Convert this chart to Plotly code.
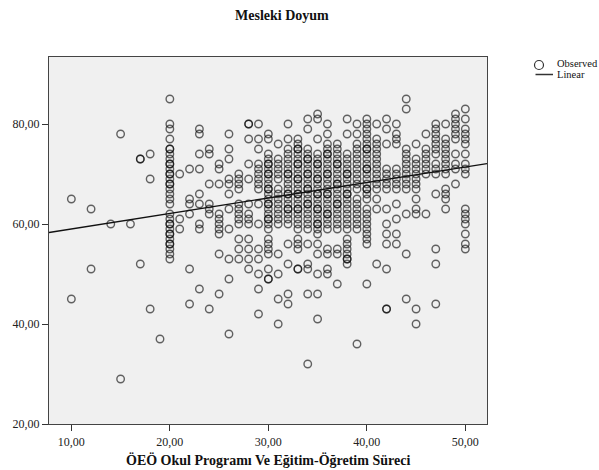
import plotly.graph_objects as go

# ---- data ----
x_levels = [10, 12, 14, 15, 16, 17, 18, 19, 20, 21, 22, 23, 24, 25, 26, 27, 28, 29,
            30, 31, 32, 33, 34, 35, 36, 37, 38, 39, 40, 41, 42, 43, 44, 45, 46, 47, 48, 49, 50]
y_by_level = [
    [65, 45],
    [63, 51],
    [60],
    [78, 29],
    [60],
    [73, 73, 52],
    [74, 69, 43],
    [37],
    [85, 80, 79, 77, 75, 74, 73, 72, 71, 70, 69, 68, 67, 66, 65, 64, 62, 61, 60, 59, 58, 57, 56, 55, 54, 53, 75, 72, 70, 68, 60, 58, 56],
    [70, 61, 59],
    [71, 65, 64, 62, 51, 44],
    [79, 78, 74, 71, 66, 64, 60, 59, 47],
    [75, 74, 68, 64, 63, 62, 43],
    [72, 71, 68, 62, 61, 60, 59, 58, 54, 46],
    [78, 75, 73, 69, 68, 66, 63, 59, 53, 49, 38],
    [70, 69, 68, 67, 64, 63, 62, 61, 60, 57, 55, 53],
    [80, 80, 77, 72, 69, 64, 62, 61, 60, 57, 55, 53, 51],
    [80, 77, 75, 72, 71, 70, 69, 68, 67, 64, 60, 55, 53, 50, 47, 42],
    [78, 77, 74, 73, 72, 71, 70, 69, 68, 67, 66, 65, 64, 63, 62, 61, 60, 59, 57, 56, 55, 54, 51, 49, 49, 72, 70, 67, 64, 61],
    [76, 73, 72, 71, 70, 69, 67, 66, 65, 64, 63, 62, 61, 60, 54, 50, 45, 40],
    [80, 77, 75, 74, 73, 72, 71, 70, 69, 68, 67, 66, 65, 64, 63, 62, 61, 60, 56, 52, 46, 44, 70, 66, 63],
    [77, 76, 75, 74, 73, 72, 71, 70, 69, 68, 67, 66, 65, 64, 63, 62, 61, 60, 59, 57, 56, 55, 51, 51, 75, 72, 69, 66, 63],
    [81, 79, 75, 74, 73, 72, 71, 70, 69, 68, 67, 66, 65, 64, 63, 62, 61, 60, 59, 56, 52, 51, 46, 32, 73, 70, 67, 64],
    [82, 81, 77, 74, 73, 72, 71, 70, 69, 68, 67, 66, 65, 64, 63, 62, 61, 60, 59, 58, 56, 54, 50, 46, 41, 72, 69, 66, 63, 60],
    [80, 78, 76, 75, 74, 73, 72, 71, 70, 69, 68, 67, 66, 65, 64, 63, 62, 61, 60, 59, 55, 54, 51, 50, 74, 70, 66, 62],
    [76, 75, 74, 73, 72, 71, 70, 69, 68, 67, 66, 65, 64, 63, 62, 61, 60, 59, 55, 54, 48, 72, 68, 64],
    [81, 78, 74, 73, 72, 71, 70, 69, 68, 67, 66, 65, 64, 63, 62, 61, 60, 59, 57, 56, 55, 54, 53, 52, 53, 70, 66],
    [80, 78, 76, 75, 74, 73, 72, 71, 70, 69, 68, 67, 65, 64, 63, 62, 61, 60, 59, 36],
    [81, 80, 79, 78, 77, 76, 75, 74, 73, 72, 71, 70, 69, 68, 67, 66, 65, 63, 62, 61, 60, 59, 58, 57, 56, 48, 75, 71, 67],
    [80, 77, 76, 75, 74, 73, 72, 71, 70, 69, 68, 67, 65, 63, 52],
    [81, 79, 76, 71, 70, 69, 68, 67, 63, 60, 58, 56, 51, 43, 43],
    [80, 78, 77, 76, 71, 70, 69, 68, 67, 64, 61, 58, 56],
    [85, 83, 75, 74, 73, 72, 71, 70, 69, 68, 67, 62, 54, 45],
    [76, 73, 72, 71, 70, 69, 68, 67, 65, 63, 62, 43, 40],
    [78, 75, 74, 73, 72, 71, 70, 62],
    [80, 79, 78, 77, 76, 75, 74, 72, 71, 70, 66, 55, 52, 44],
    [80, 77, 76, 75, 74, 73, 72, 71, 70, 67, 66, 65, 63],
    [82, 81, 80, 79, 78, 77, 74, 72, 71, 68],
    [83, 81, 79, 78, 77, 76, 74, 72, 71, 70, 63, 62, 61, 60, 58, 56, 55],
]
# linear fit
fit_intercept = 55.9
fit_slope = 0.31

x_ticks = [10, 20, 30, 40, 50]
y_ticks = [20, 40, 60, 80]
x_range = [7.73, 52.2]
y_range = [20, 93.4]

xs, ys = [], []
for xv, col in zip(x_levels, y_by_level):
    for yv in col:
        xs.append(xv)
        ys.append(yv)

fig = go.Figure()
fig.add_trace(go.Scatter(
    x=xs, y=ys, mode="markers", name="Observed",
    marker=dict(symbol="circle-open", size=7.5, color="rgba(0,0,0,0.6)",
                line=dict(width=1.4, color="rgba(0,0,0,0.6)")),
    showlegend=False, hoverinfo="skip"))
lx = x_range
fig.add_trace(go.Scatter(
    x=lx, y=[fit_intercept + fit_slope * v for v in lx], mode="lines", name="Linear",
    line=dict(color="#111111", width=1.3), showlegend=False, hoverinfo="skip"))

W, H = 599, 470
L, R, T, B = 49, 487, 57, 424
pw, ph = R - L, B - T

def px(xp):
    return (xp - L) / pw

def py(yp):
    return (B - yp) / ph

font_serif = "Liberation Serif, Times New Roman, serif"

fig.update_layout(
    width=W, height=H,
    margin=dict(l=L, r=W - R, t=T, b=H - B),
    paper_bgcolor="white", plot_bgcolor="#f0f0f0",
    separators=",.",
    font=dict(family=font_serif, size=12, color="#222222"),
    xaxis=dict(range=x_range, tickvals=x_ticks, tickformat=".2f", showgrid=False, zeroline=False,
               ticks="outside", ticklen=6, tickwidth=1, tickcolor="#333333",
               showline=True, linecolor="#444444", linewidth=1.2, mirror=True,
               tickfont=dict(family=font_serif, size=12, color="#222222")),
    yaxis=dict(range=y_range, tickvals=y_ticks, tickformat=".2f", showgrid=False, zeroline=False,
               ticks="outside", ticklen=6, tickwidth=1, tickcolor="#333333",
               showline=True, linecolor="#444444", linewidth=1.2, mirror=True,
               tickfont=dict(family=font_serif, size=12, color="#222222")),
    showlegend=False,
)

fig.add_annotation(text="<b>Mesleki Doyum</b>", xref="paper", yref="paper",
                   x=px(282), y=py(15), showarrow=False, xanchor="center", yanchor="middle",
                   font=dict(family=font_serif, size=14, color="#111111"))
fig.add_annotation(text="<b>ÖEÖ Okul Programı Ve Eğitim-Öğretim Süreci</b>", xref="paper", yref="paper",
                   x=px(268), y=py(460), showarrow=False, xanchor="center", yanchor="middle",
                   font=dict(family=font_serif, size=14, color="#111111"))

# legend drawn by hand
r = 4.5
fig.add_shape(type="circle", xref="paper", yref="paper",
              x0=px(539 - r), x1=px(539 + r), y0=py(65 + r), y1=py(65 - r),
              line=dict(color="#333333", width=1.2), fillcolor="rgba(0,0,0,0)")
fig.add_shape(type="line", xref="paper", yref="paper",
              x0=px(535.5), x1=px(553), y0=py(74.5), y1=py(74.5),
              line=dict(color="#333333", width=1.5))
fig.add_annotation(text="Observed", xref="paper", yref="paper", x=px(555), y=py(64),
                   showarrow=False, xanchor="left", yanchor="middle",
                   font=dict(family=font_serif, size=10.5, color="#111111"))
fig.add_annotation(text="Linear", xref="paper", yref="paper", x=px(555), y=py(75),
                   showarrow=False, xanchor="left", yanchor="middle",
                   font=dict(family=font_serif, size=10.5, color="#111111"))

fig.write_html("out.html")
